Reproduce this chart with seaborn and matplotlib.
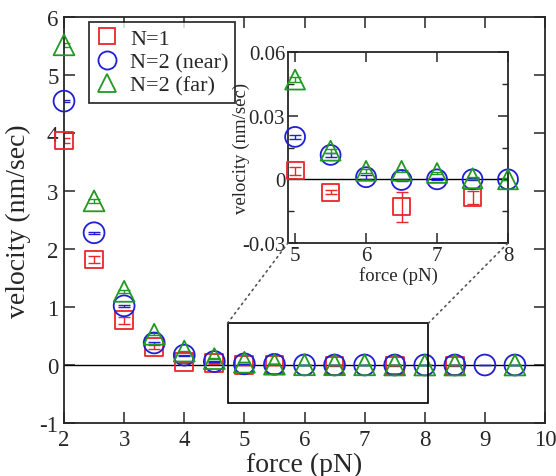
import matplotlib
matplotlib.use("Agg")
import matplotlib.pyplot as plt
import seaborn as sns
import numpy as np
from matplotlib.patches import Rectangle, ConnectionPatch
from matplotlib.ticker import MultipleLocator
from matplotlib.lines import Line2D

# ---- data ----
force_n1 = [2.0, 2.5, 3.0, 3.5, 4.0, 4.5, 5.0, 5.5, 6.5, 7.5, 8.5]
vel_n1 = [3.87, 1.82, 0.77, 0.31, 0.05, 0.03, 0.004, -0.006, -0.013, -0.0085, -0.01]
err_n1 = [0.05, 0.06, 0.06, 0.04, 0.01, 0.005, 0.002, 0.001, 0.007, 0.003, 0.003]

force_near = [2.0, 2.5, 3.0, 3.5, 4.0, 4.5, 5.0, 5.5, 6.0, 6.5, 7.0, 7.5, 8.0, 8.5, 9.0, 9.5]
vel_near = [4.55, 2.28, 1.02, 0.38, 0.17, 0.06, 0.020, 0.0115, 0.001, -0.0003, 0.0, 0.0, 0.0, 0.0, 0.0, 0.0]
err_near = [0.02, 0.02, 0.02, 0.01, 0.01, 0.005, 0.001, 0.001, 0.001, 0.0005, 0.0005, 0.0005, 0.0005, 0.0005, 0.0005, 0.0005]

force_far = [2.0, 2.5, 3.0, 3.5, 4.0, 4.5, 5.0, 5.5, 6.0, 6.5, 7.0, 7.5, 8.0, 8.5, 9.5]
vel_far = [5.52, 2.83, 1.27, 0.53, 0.24, 0.11, 0.047, 0.0135, 0.004, 0.004, 0.003, 0.0005, 0.0, 0.0, 0.0]
err_far = [0.03, 0.03, 0.03, 0.02, 0.01, 0.005, 0.001, 0.001, 0.001, 0.0005, 0.0005, 0.0005, 0.0005, 0.0005, 0.0005]

labels = ["N=1", "N=2 (near)", "N=2 (far)"]
colors = ["#e8262b", "#1f1fd6", "#229922"]
markers = ["s", "o", "^"]

main_xticks = [2, 3, 4, 5, 6, 7, 8, 9, 10]
main_yticks = [-1, 0, 1, 2, 3, 4, 5, 6]
inset_xticks = [5, 6, 7, 8]
inset_yticks = [-0.03, 0.0, 0.03, 0.06]
inset_yticklabels = ["-0.03", "0", "0.03", "0.06"]

sns.set_style("ticks")
plt.rcParams["font.family"] = ["Liberation Serif", "DejaVu Serif"]
plt.rcParams["axes.unicode_minus"] = False

fig = plt.figure(figsize=(5.56, 4.77), dpi=100)
W, H = 556, 477
ax = fig.add_axes([64 / W, 1 - 424 / H, (545 - 64) / W, (424 - 18) / H])
axi = fig.add_axes([288 / W, 1 - 244 / H, (508 - 288) / W, (244 - 53) / H])

main_lim = ((2, 10), (-1, 6))
inset_lim = ((4.9, 8.0), (-0.03, 0.06))

series = [(force_n1, vel_n1, err_n1), (force_near, vel_near, err_near), (force_far, vel_far, err_far)]
sizes_main = [165, 225, 225]
sizes_inset = [150, 205, 205]

for a, sizes, ((x0, x1), (y0, y1)) in ((ax, sizes_main, main_lim), (axi, sizes_inset, inset_lim)):
    a.axhline(0, color="black", lw=1.0, zorder=1)
    for (fx, fy, fe), lab, c, m, s in zip(series, labels, colors, markers, sizes):
        a.errorbar(fx, fy, yerr=fe, fmt="none", ecolor=c, elinewidth=1.0, capsize=4, capthick=1.0, zorder=2)
        fxa, fya = np.asarray(fx), np.asarray(fy)
        keep = (fxa >= x0) & (fxa <= x1) & (fya >= y0) & (fya <= y1)
        sns.scatterplot(x=fxa[keep], y=fya[keep], ax=a, marker=m, s=s, facecolor="none", edgecolor=c,
                        linewidth=1.3, zorder=3, legend=False, clip_on=False)
    a.set_xlim(x0, x1)
    a.set_ylim(y0, y1)

# main axes styling
ax.set_xticks(main_xticks)
ax.set_yticks(main_yticks)
ax.tick_params(direction="in", length=8, width=1.1, top=True, right=True, labelsize=16.5, pad=4)
for sp in ax.spines.values():
    sp.set_linewidth(1.3)
    sp.set_visible(True)
ax.set_xlabel("force (pN)", fontsize=20, labelpad=2)
ax.set_ylabel("velocity (nm/sec)", fontsize=20, labelpad=6)

# legend
handles = [Line2D([], [], marker=m, ls="none", markersize=13 if m != "s" else 11.5, markerfacecolor="none",
                  markeredgecolor=c, markeredgewidth=1.3) for m, c in zip(markers, colors)]
leg = ax.legend(handles, labels, loc="upper left", bbox_to_anchor=(0.052, 0.988), frameon=True,
                fontsize=16, handlelength=1.0, handletextpad=0.55, borderpad=0.3, labelspacing=0.13,
                fancybox=False, edgecolor="black", borderaxespad=0)
leg.get_frame().set_linewidth(1.3)
leg.set_zorder(5)

# inset styling
axi.set_xticks(inset_xticks)
axi.set_yticks(inset_yticks)
axi.set_yticklabels(inset_yticklabels)
axi.yaxis.set_minor_locator(MultipleLocator(0.015))
axi.tick_params(which="major", direction="in", length=7, width=1.1, top=True, right=True, labelsize=15, pad=2)
axi.tick_params(which="minor", direction="in", length=4, width=1.0, top=False, right=True, left=True)
for sp in axi.spines.values():
    sp.set_linewidth(1.3)
    sp.set_visible(True)
axi.set_xlabel("force (pN)", fontsize=13.5, labelpad=1)
axi.set_ylabel("velocity (nm/sec)", fontsize=13.5, labelpad=-6)
axi.set_facecolor("white")

# zoom rectangle and connectors
rx0, rx1, ry0, ry1 = 4.72, 8.06, -0.65, 0.72
ax.add_patch(Rectangle((rx0, ry0), rx1 - rx0, ry1 - ry0, fill=False, ec="black", lw=1.2, zorder=4))
for (px, py), (qx, qy) in (((rx0, ry1), (0, 0)), ((rx1, ry1), (1, 0))):
    con = ConnectionPatch(xyA=(px, py), coordsA=ax.transData, xyB=(qx, qy), coordsB=axi.transAxes,
                          ls=(0, (1, 2.5)), lw=1.2, color="#555555")
    fig.add_artist(con)

fig.savefig("out.png", dpi=100)
